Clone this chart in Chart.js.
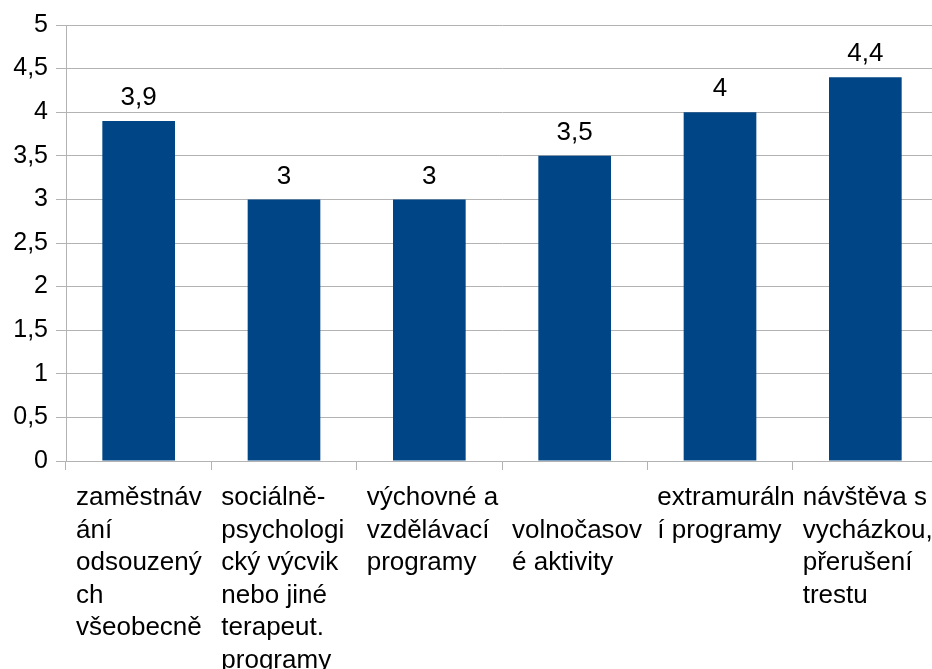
<!DOCTYPE html>
<html>
<head>
<meta charset="utf-8">
<script src="https://cdn.jsdelivr.net/npm/chart.js@4/dist/chart.umd.min.js"></script>
<style>
  html, body { margin: 0; padding: 0; background: #fff; overflow: hidden; }
  #wrap { width: 938px; height: 669px; }
</style>
</head>
<body>
<div id="wrap"><canvas id="bar-chart"></canvas></div>
<script>
// categories, already broken into lines the way the original shows them
var categories = [
    ['zaměstnáv', 'ání', 'odsouzený', 'ch', 'všeobecně'],
    ['sociálně-', 'psychologi', 'cký výcvik', 'nebo jiné', 'terapeut.', 'programy'],
    ['výchovné a', 'vzdělávací', 'programy'],
    ['', 'volnočasov', 'é aktivity'],
    ['extramuráln', 'í programy'],
    ['návštěva s', 'vycházkou,', 'přerušení', 'trestu']
];
var values = [3.9, 3, 3, 3.5, 4, 4.4];
var yTicks = [0, 0.5, 1, 1.5, 2, 2.5, 3, 3.5, 4, 4.5, 5];

var FONT = '"Liberation Sans", Arial, sans-serif';
var fmt = function (v) { return String(v).replace('.', ','); };

// value labels above the bars
var valueLabels = {
    id: 'valueLabels',
    afterDatasetsDraw: function (chart) {
        var c = chart.ctx;
        c.save();
        c.font = '26px ' + FONT;
        c.fillStyle = '#000';
        c.textAlign = 'center';
        c.textBaseline = 'middle';
        chart.getDatasetMeta(0).data.forEach(function (bar, i) {
            c.fillText(fmt(values[i]), bar.x, bar.y - 23);
        });
        c.restore();
    }
};

// left aligned, multi line category labels
var catLabels = {
    id: 'catLabels',
    afterDraw: function (chart) {
        var c = chart.ctx;
        var x = chart.scales.x;
        var w = x.width / categories.length;
        c.save();
        c.font = '26px ' + FONT;
        c.fillStyle = '#000';
        c.textAlign = 'left';
        c.textBaseline = 'middle';
        categories.forEach(function (lines, i) {
            var left = x.getPixelForValue(i) - w / 2 + 10;
            lines.forEach(function (t, j) {
                c.fillText(t, left, x.top + 37 + j * 32.5);
            });
        });
        c.restore();
    }
};

var chart = new Chart(document.getElementById('bar-chart').getContext('2d'), {
    type: 'bar',
    data: {
        labels: categories.map(function (l) { return l.join(' ').trim(); }),
        datasets: [{
            data: values,
            backgroundColor: '#004586',
            barPercentage: 0.5,
            categoryPercentage: 1
        }]
    },
    options: {
        responsive: true,
        maintainAspectRatio: false,
        animation: false,
        layout: { padding: { top: 25, right: 0, left: 0, bottom: 0 } },
        plugins: { legend: { display: false }, tooltip: { enabled: false } },
        scales: {
            x: {
                offset: true,
                grid: { drawOnChartArea: false, color: '#b3b3b3', tickLength: 9, offset: true },
                border: { color: '#b3b3b3' },
                ticks: { display: false },
                afterFit: function (s) { s.height = 208; }
            },
            y: {
                min: 0,
                max: 5,
                afterBuildTicks: function (s) { s.ticks = yTicks.map(function (v) { return { value: v }; }); },
                grid: { color: '#b3b3b3', tickLength: 10 },
                border: { color: '#b3b3b3' },
                ticks: {
                    color: '#000',
                    padding: 8,
                    font: { family: FONT, size: 25 },
                    callback: function (v) { return fmt(v); }
                },
                afterFit: function (s) { s.width = 66; }
            }
        }
    },
    plugins: [valueLabels, catLabels]
});
</script>
</body>
</html>
